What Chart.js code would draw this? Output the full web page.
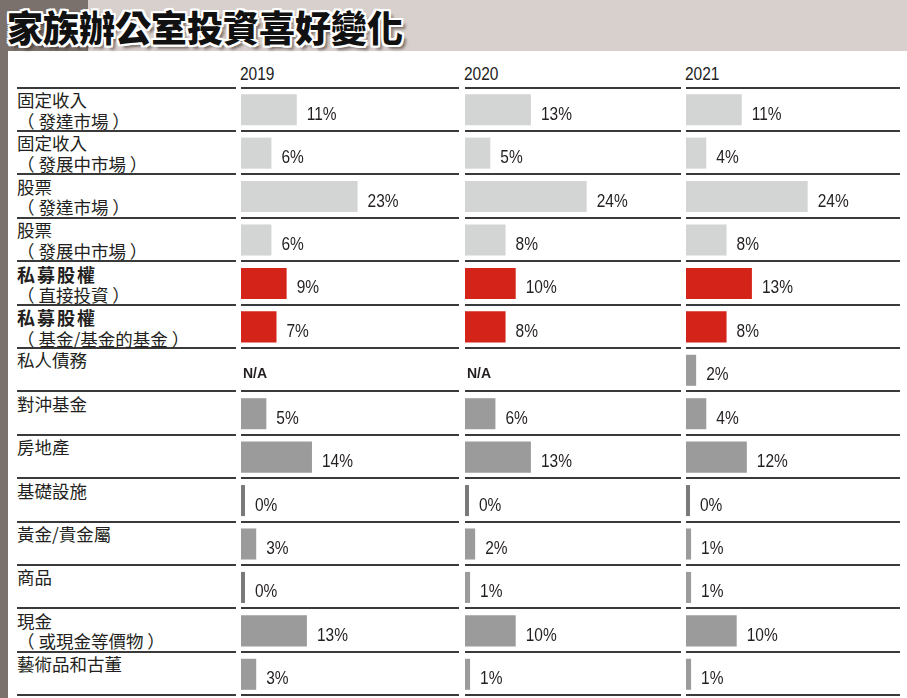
<!DOCTYPE html>
<html>
<head>
<meta charset="utf-8">
<script src="https://cdn.jsdelivr.net/npm/chart.js@4.4.1/dist/chart.umd.min.js"></script>
<style>
  html, body { margin: 0; padding: 0; background: #fff; }
  #page { position: relative; width: 907px; height: 698px; overflow: hidden; background: #fff; }
  .titlebar { position: absolute; left: 0; top: 0; width: 907px; height: 51px; background: #d8d0cc; }
  .titleblock { position: absolute; left: 0; top: 0; width: 88px; height: 51px; background: #7b716c; }
  .strip { position: absolute; left: 0; top: 51px; width: 8px; height: 647px; background: #7b716c; }
  h1 {
    position: absolute; left: 7px; top: 1px; margin: 0;
    font: 900 36px/50px "Noto Sans CJK TC", sans-serif; color: #111;
    text-shadow: -2px -2px 0 #fff, 2px -2px 0 #fff, -2px 2px 0 #fff, 2px 2px 0 #fff,
                 0 2px 0 #fff, 0 -2px 0 #fff, 2px 0 0 #fff, -2px 0 0 #fff,
                 4px 4px 3px rgba(40, 30, 25, 0.55);
    white-space: nowrap;
  }
  .year { position: absolute; top: 65px; font: 18px/18px "Liberation Sans", Arial, sans-serif; color: #222;
          transform: scaleX(0.86); transform-origin: 0 0; }
  .rule { position: absolute; height: 2px; background: #3a3a3a; }
  .label { position: absolute; left: 17px; width: 220px; font: 17.5px/20.5px "Noto Sans CJK TC", sans-serif; color: #231f20; white-space: pre; }
  .label b { font-weight: 700; font-size: 18px; letter-spacing: 2px; }
  .col { position: absolute; top: 88px; width: 218px; height: 608px; }
</style>
</head>
<body>
<div id="page">
  <div class="titlebar"><div class="titleblock"></div><h1>家族辦公室投資喜好變化</h1></div>
  <div class="strip"></div>
  <div class="col" style="left:241px"><canvas id="c2019" width="218" height="608"></canvas></div>
  <div class="col" style="left:465px"><canvas id="c2020" width="218" height="608"></canvas></div>
  <div class="col" style="left:686px"><canvas id="c2021" width="218" height="608"></canvas></div>
</div>
<script>
// asset classes: main line + optional sub line
const categories = [
  ['固定收入', '（ 發達市場 ）'],
  ['固定收入', '（ 發展中市場 ）'],
  ['股票', '（ 發達市場 ）'],
  ['股票', '（ 發展中市場 ）'],
  ['私募股權', '（ 直接投資 ）'],
  ['私募股權', '（ 基金/基金的基金 ）'],
  ['私人債務', ''],
  ['對沖基金', ''],
  ['房地產', ''],
  ['基礎設施', ''],
  ['黃金/貴金屬', ''],
  ['商品', ''],
  ['現金', '（ 或現金等價物 ）'],
  ['藝術品和古董', '']
];
// traditional / private equity / alternative
const groups = ['trad', 'trad', 'trad', 'trad', 'pe', 'pe', 'alt', 'alt', 'alt', 'alt', 'alt', 'alt', 'alt', 'alt'];

const years = ['2019', '2020', '2021'];
const share2019 = [11, 6, 23, 6, 9, 7, null, 5, 14, 0, 3, 0, 13, 3];
const share2020 = [13, 5, 24, 8, 10, 8, null, 6, 13, 0, 2, 1, 10, 1];
const share2021 = [11, 4, 24, 8, 13, 8, 2, 4, 12, 0, 1, 1, 10, 1];

const groupColor = { trad: '#d3d4d4', pe: '#d42318', alt: '#9b9b9b' };

const page = document.getElementById('page');
const top0 = 88, rowH = 43.4;
const colLines = [[17, 236], [241, 459], [465, 681], [686, 900]];
const yearX = [240, 464, 685];

// year headings
years.forEach((y, i) => {
  const d = document.createElement('div');
  d.className = 'year';
  d.style.left = yearX[i] + 'px';
  d.textContent = y;
  page.appendChild(d);
});

// row rules
for (let k = 0; k <= categories.length; k++) {
  const y = top0 + k * rowH - 1.5;
  colLines.forEach(([a, b]) => {
    const r = document.createElement('div');
    r.className = 'rule';
    r.style.left = a + 'px';
    r.style.width = (b - a) + 'px';
    r.style.top = y + 'px';
    page.appendChild(r);
  });
}

// row labels
categories.forEach((c, i) => {
  const d = document.createElement('div');
  d.className = 'label';
  d.style.top = (top0 + i * rowH + 2) + 'px';
  const first = groups[i] === 'pe' ? '<b>' + c[0] + '</b>' : c[0];
  d.innerHTML = first + (c[1] ? '\n' + c[1] : '');
  page.appendChild(d);
});

const valueLabels = {
  id: 'valueLabels',
  afterDatasetsDraw(chart) {
    const ctx = chart.ctx;
    const meta = chart.getDatasetMeta(0);
    const data = chart.data.datasets[0].data;
    ctx.save();
    ctx.fillStyle = '#231f20';
    ctx.textAlign = 'left';
    ctx.textBaseline = 'alphabetic';
    meta.data.forEach((el, i) => {
      const v = data[i];
      const yc = chart.scales.y.getPixelForValue(i);
      if (v === null) {
        ctx.font = 'bold 14px "Liberation Sans", Arial, sans-serif';
        ctx.fillText('N/A', chart.chartArea.left + 2, yc + 8);
        return;
      }
      // condensed look
      const x = Math.max(el.x, el.base) + 10;
      ctx.save();
      ctx.translate(x, yc + 10);
      ctx.scale(0.86, 1);
      ctx.font = '18px "Liberation Sans", Arial, sans-serif';
      ctx.fillText(v + '%', 0, 0);
      ctx.restore();
    });
    ctx.restore();
  }
};

function makeChart(id, values) {
  return new Chart(document.getElementById(id), {
    type: 'bar',
    data: {
      labels: categories.map(c => c.join('')),
      datasets: [{
        data: values,
        backgroundColor: ctx => values[ctx.dataIndex] === 0 ? '#7a7a7a' : groupColor[groups[ctx.dataIndex]],
        borderWidth: 0,
        barPercentage: 0.715,
        categoryPercentage: 1,
        minBarLength: 4
      }]
    },
    options: {
      indexAxis: 'y',
      responsive: false,
      animation: false,
      layout: { padding: 0 },
      scales: {
        x: { display: false, min: 0, max: 43 },
        y: { display: false }
      },
      plugins: { legend: { display: false }, tooltip: { enabled: false } }
    },
    plugins: [valueLabels]
  });
}

makeChart('c2019', share2019);
makeChart('c2020', share2020);
makeChart('c2021', share2021);
</script>
</body>
</html>
